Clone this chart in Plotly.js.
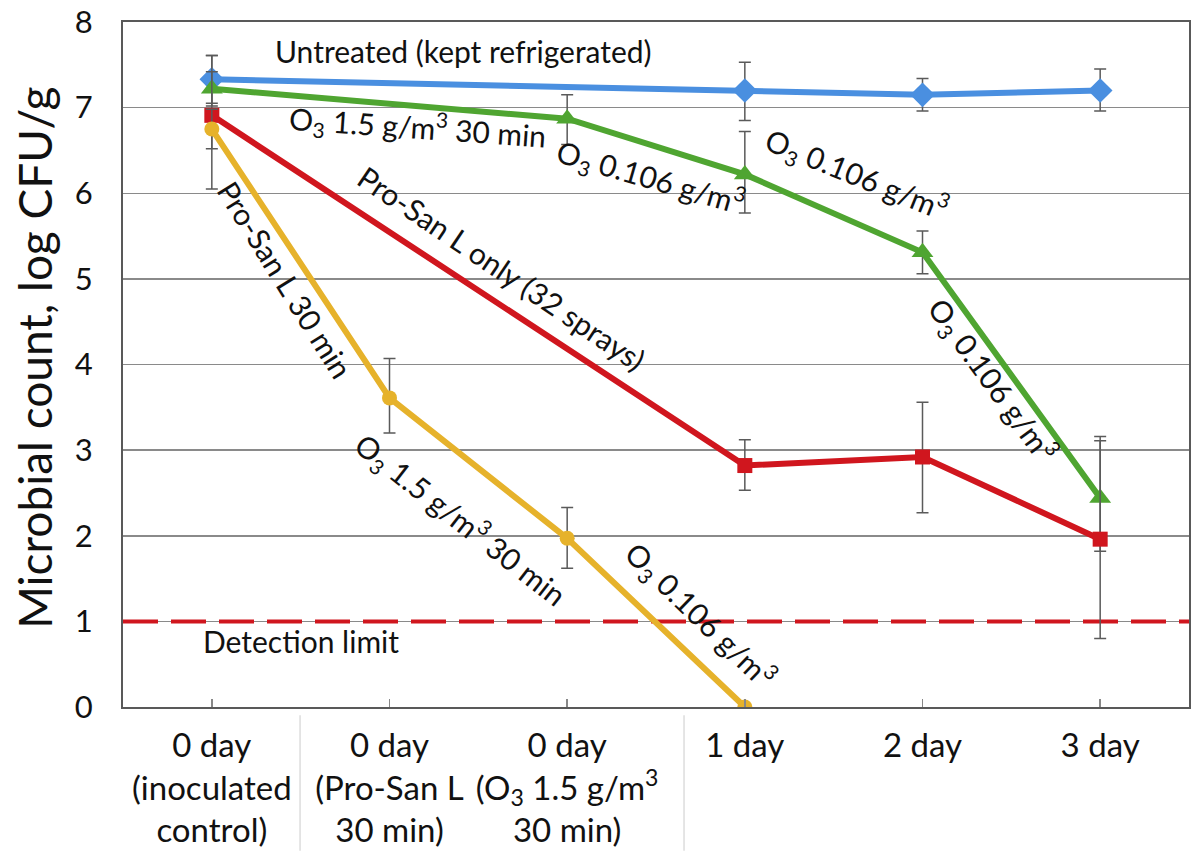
<!DOCTYPE html>
<html><head><meta charset="utf-8">
<script src="https://cdn.plot.ly/plotly-3.0.1.min.js"></script>
<style>html,body{margin:0;padding:0;background:#fff}</style>
</head><body><div id="chart" style="width:1192px;height:854px"></div>
<script>
const categories = [0, 1, 2, 3, 4, 5];
const tickLabels = [
  "0 day<br>(inoculated<br>control)",
  "0 day<br>(Pro-San L<br>30 min)",
  "0 day<br>(O<sub>3</sub> 1.5 g/m<sup>3</sup><br>30 min)",
  "1 day", "2 day", "3 day"
];
const untreated      = [7.33, null, null, 7.20, 7.15, 7.20];
const untreatedPlus  = [0.28, 0, 0, 0.33, 0.19, 0.25];
const untreatedMinus = [0.28, 0, 0, 0.35, 0.19, 0.24];
const ozoneOnly      = [7.22, null, 6.87, 6.22, 5.31, 2.44];
const ozonePlus      = [0.20, 0, 0.28, 0.50, 0.25, 0.72];
const ozoneMinus     = [0.20, 0, 0.30, 0.45, 0.25, 0.62];
const proSanOnly     = [6.91, null, null, 2.82, 2.92, 1.96];
const proSanPlus     = [0.70, 0, 0, 0.30, 0.64, 1.15];
const proSanMinus    = [0.86, 0, 0, 0.29, 0.65, 1.16];
const combined       = [6.75, 3.61, 1.97, 0.00, null, null];
const combinedPlus   = [0.23, 0.46, 0.36, 0, 0, 0];
const combinedMinus  = [0.23, 0.41, 0.35, 0, 0, 0];
const detectionLimit = 1;

const FONT = "Lato, 'Open Sans', sans-serif";
const errStyle = (p, m) => ({type:'data', symmetric:false, array:p, arrayminus:m, color:'#5a5a5a', thickness:1.5, width:6});

const traces = [
  {x:[-0.5, 5.5], y:[detectionLimit, detectionLimit], mode:'lines', hoverinfo:'skip',
   line:{color:'#d0161e', width:4, dash:'35px,13px'}},
  {x:categories, y:untreated, mode:'lines+markers', connectgaps:true,
   line:{color:'#4a8fe0', width:6}, marker:{symbol:'diamond', size:19, color:'#4a8fe0'},
   error_y:errStyle(untreatedPlus, untreatedMinus)},
  {x:categories, y:ozoneOnly, mode:'lines+markers', connectgaps:true,
   line:{color:'#4fa531', width:6}, marker:{symbol:'triangle-up', size:19, color:'#4fa531'},
   error_y:errStyle(ozonePlus, ozoneMinus)},
  {x:categories, y:proSanOnly, mode:'lines+markers', connectgaps:true,
   line:{color:'#d0161e', width:6}, marker:{symbol:'square', size:15, color:'#d0161e'},
   error_y:errStyle(proSanPlus, proSanMinus)},
  {x:categories, y:combined, mode:'lines+markers', connectgaps:true,
   line:{color:'#e6b22b', width:6}, marker:{symbol:'circle', size:15, color:'#e6b22b'},
   error_y:errStyle(combinedPlus, combinedMinus)}
];

const ann = (text, x, y, angle) => ({text, x, y, xref:'x', yref:'y', showarrow:false,
  xanchor:'center', yanchor:'middle',
  textangle:angle, font:{family:FONT, size:30, color:'#111'}});

const layout = {
  width:1192, height:854, showlegend:false,
  paper_bgcolor:'#fff', plot_bgcolor:'#fff',
  margin:{l:123, r:3, t:22, b:147},
  font:{family:FONT, color:'#111'},
  xaxis:{range:[-0.5, 5.5], tickvals:categories, ticktext:tickLabels,
    showgrid:false, zeroline:false, showline:true, mirror:true, linecolor:'#595959', linewidth:2,
    ticks:'inside', ticklen:8, tickcolor:'#888', tickwidth:1.5,
    tickfont:{family:FONT, size:33, color:'#111'}, ticklabelstandoff:8},
  yaxis:{range:[0, 8], dtick:1, showgrid:true, gridcolor:'#8a8a8a', gridwidth:1.5,
    zeroline:false, showline:true, mirror:true, linecolor:'#595959', linewidth:2,
    ticks:'', tickfont:{family:FONT, size:31, color:'#111'}, ticklabelstandoff:22},
  shapes:[
    {type:'line', xref:'paper', yref:'paper', x0:0.1661, x1:0.1661, y0:-0.012, y1:-0.21, line:{color:'#dddddd', width:1.5}},
    {type:'line', xref:'paper', yref:'paper', x0:0.5263, x1:0.5263, y0:-0.012, y1:-0.21, line:{color:'#dddddd', width:1.5}}
  ],
  annotations:[
    {text:'Microbial count, log CFU/g', xref:'paper', yref:'paper', x:-0.083, y:0.509,
     xanchor:'center', yanchor:'middle',
     showarrow:false, textangle:-90, font:{family:FONT, size:46, color:'#111'}},
    ann('Untreated (kept refrigerated)', 1.414, 7.66, 0),
    ann('O<sub>3</sub> 1.5 g/m<sup>3</sup> 30 min', 1.155, 6.77, 4),
    ann('O<sub>3</sub> 0.106 g/m<sup>3</sup>', 2.468, 6.19, 16),
    ann('O<sub>3</sub> 0.106 g/m<sup>3</sup>', 3.628, 6.22, 22),
    ann('O<sub>3</sub> 0.106 g/m<sup>3</sup>', 4.394, 3.82, 54),
    ann('Pro-San L only (32 sprays)', 1.634, 5.13, 34),
    ann('Pro-San L 30 min', 0.417, 4.99, 58),
    ann('O<sub>3</sub> 1.5 g/m<sup>3</sup> 30 min', 1.397, 2.19, 38),
    ann('O<sub>3</sub> 0.106 g/m<sup>3</sup>', 2.749, 1.08, 44),
    ann('Detection limit', 0.501, 0.77, 0)
  ]
};
Plotly.newPlot('chart', traces, layout, {displayModeBar:false, staticPlot:true});
</script>
</body></html>
